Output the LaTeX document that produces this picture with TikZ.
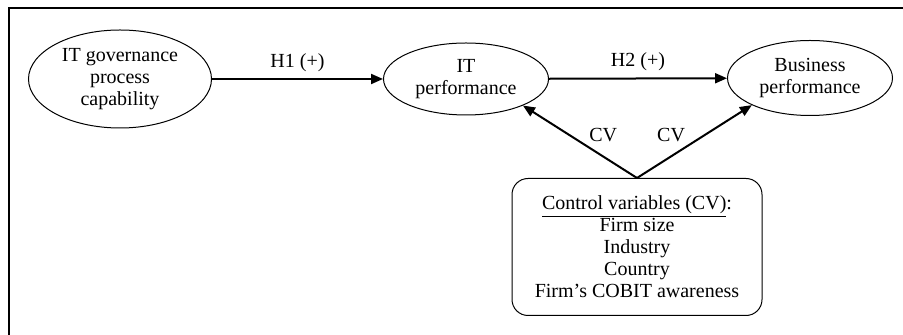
\documentclass[tikz,border=0pt]{standalone}
\usepackage{fontspec}
\setmainfont{Liberation Serif}
\usetikzlibrary{shapes.geometric,arrows.meta}
\begin{document}
\begin{tikzpicture}[x=0.5pt, y=-0.5pt,
        every node/.style={font=\fontsize{10}{11}\selectfont, align=center},
        construct/.style={draw, ellipse, line width=0.5pt, inner sep=0pt},
        path/.style={line width=1pt, -{Triangle[length=6pt, width=5pt]}}]
        
        \useasboundingbox (0,0) rectangle (903,335);
        \draw [line width=1pt] (9,335) -- (9,8) -- (903,8);
        
        \node [construct, minimum width=91.5pt, minimum height=49pt] (itg) at (120,79) {IT governance\\process\\capability};
        \node [construct, minimum width=82.5pt, minimum height=36pt] (itp) at (466,79) {IT\\performance};
        \node [construct, minimum width=82.5pt, minimum height=37.5pt] (bp) at (810,78) {Business\\performance};
        
        \node [draw, line width=0.5pt, rounded corners=8pt, minimum width=125pt, minimum height=68.5pt] (cv) at (637,247)
            {\underline{Control variables (CV)}:\\Firm size\\Industry\\Country\\Firm’s COBIT awareness};
        
        \begin{scope}[path]
        \draw (itg) -- (itp) node [midway, above] {H1 (+)};
        \draw (itp) -- (bp) node [midway, above] {H2 (+)};
        \draw (cv.north) -- (itp.-25) node [pos=0.45, above right=-2pt] {CV};
        \draw (cv.north) -- (bp.205) node [pos=0.45, above left=-2pt] {CV};
        \end{scope}
        
\end{tikzpicture}
\end{document}
